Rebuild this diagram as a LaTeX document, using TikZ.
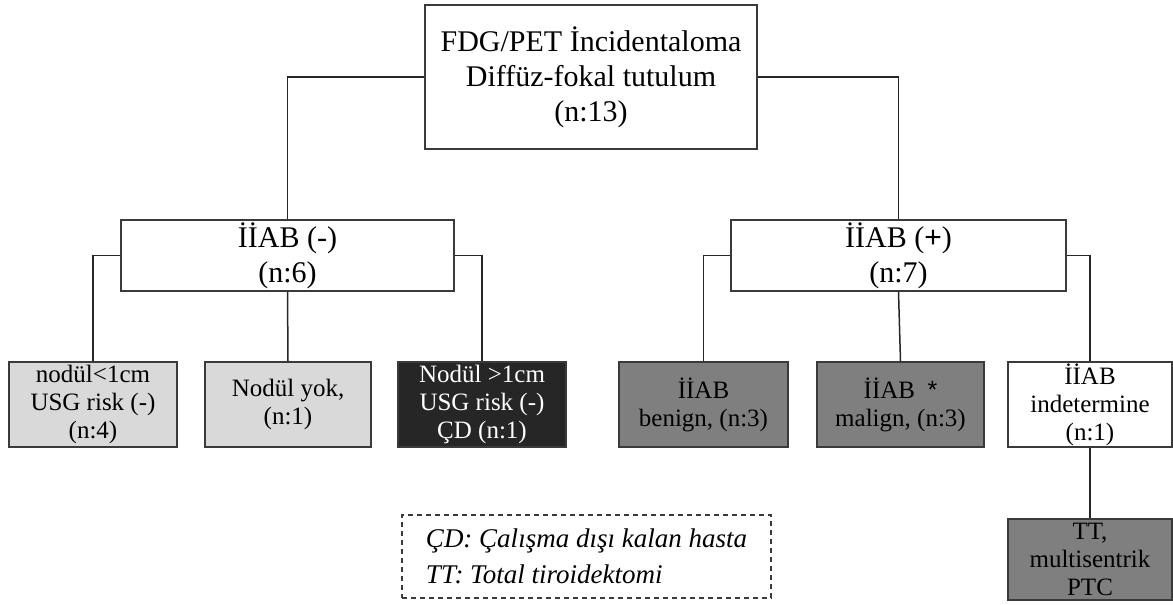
\documentclass[tikz,border=0pt]{standalone}
\usepackage{fontspec}
\setmainfont{Liberation Serif}
\newfontfamily\symfont{Liberation Sans}
\usetikzlibrary{positioning}
\definecolor{lightbox}{HTML}{D9D9D9}
\definecolor{midbox}{HTML}{7F7F7F}
\definecolor{darkbox}{HTML}{262626}
\definecolor{edgegray}{HTML}{3A3A3A}

\begin{document}
\begin{tikzpicture}[x=0.5pt, y=-0.5pt,
    box/.style={draw=edgegray, line width=0.75pt, inner sep=0pt, align=center},
    bigtext/.style={font=\fontsize{15}{17.5}\selectfont},
    smalltext/.style={font=\fontsize{12.5}{14}\selectfont},
    leaf/.style={box, smalltext, minimum height=42.5pt},
    link/.style={draw=black!85, line width=0.75pt}]
\useasboundingbox (0,0) rectangle (1173,605);

% Root
\node[box, bigtext, minimum width=166pt, minimum height=72pt] (root) at (591,77)
    {FDG/PET İncidentaloma\\Diffüz-fokal tutulum\\(n:13)};

% Biopsy result
\node[box, bigtext, minimum width=166.5pt, minimum height=35.5pt] (neg) at (287.5,255.5)
    {İİAB (-)\\(n:6)};
\node[box, bigtext, minimum width=167.5pt, minimum height=35.5pt] (pos) at (898.5,255.5)
    {İİAB ({\symfont +})\\(n:7)};

% Negative branch
\node[leaf, fill=lightbox, minimum width=84pt] (small) at (93,404.5)
    {nodül<1cm\\USG risk (-)\\(n:4)};
\node[leaf, fill=lightbox, minimum width=83pt] (none) at (288,404.5)
    {Nodül yok,\\(n:1)};
\node[leaf, fill=darkbox, text=white, minimum width=84pt] (large) at (482,404.5)
    {Nodül >1cm\\USG risk (-)\\ÇD (n:1)};

% Positive branch
\node[leaf, fill=midbox, minimum width=84.5pt] (benign) at (703.5,404.5)
    {İİAB\\benign, (n:3)};
\node[leaf, fill=midbox, minimum width=83.5pt] (malign) at (900.5,404.5)
    {İİAB~~{\symfont *}\\malign, (n:3)};
\node[leaf, fill=white, minimum width=82pt] (indet) at (1090,404.5)
    {İİAB\\indetermine\\(n:1)};
\node[leaf, fill=midbox, minimum width=82pt, minimum height=40.5pt] (tt) at (1090,559.5)
    {TT,\\multisentrik\\PTC};

% Legend
\node[draw=edgegray, line width=1pt, dash pattern=on 2.5pt off 2pt, inner sep=0pt,
    minimum width=184.5pt, minimum height=41.5pt, align=left,
    font=\fontsize{13.5}{18}\selectfont\itshape] (legend) at (586.5,556.5)
    {ÇD: Çalışma dışı kalan hasta\\TT: Total tiroidektomi};

% Connectors
\draw[link] (root.west) -| (neg.north);
\draw[link] (root.east) -| (pos.north);
\draw[link] (neg.west) -| (small.north);
\draw[link] (neg.south) -- (none.north);
\draw[link] (neg.east) -| (large.north);
\draw[link] (pos.west) -| (benign.north);
\draw[link] (pos.south) -- (malign.north);
\draw[link] (pos.east) -| (indet.north);
\draw[link] (indet.south) -- (tt.north);

\end{tikzpicture}
\end{document}
